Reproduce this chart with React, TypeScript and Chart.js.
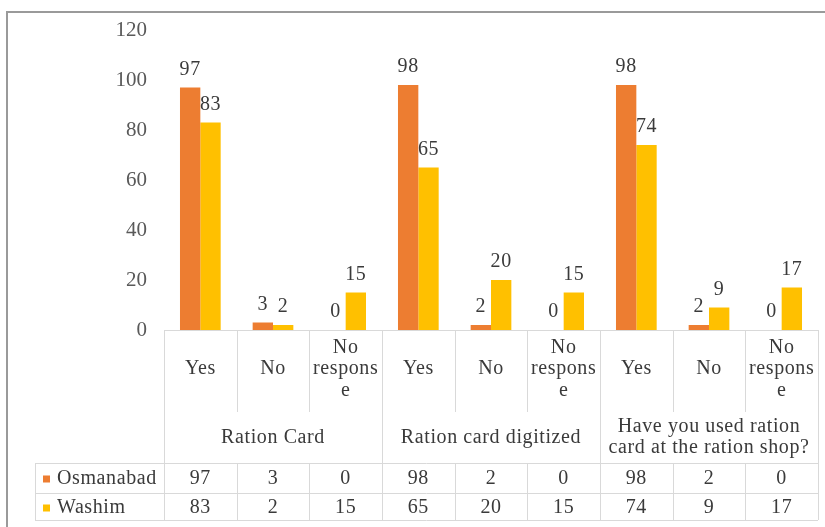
import React, { useEffect, useRef } from "react";
import { Chart, registerables } from "chart.js";

Chart.register(...registerables);

const categoryLines: string[][] = [
  ["Yes"], ["No"], ["No", "respons", "e"],
  ["Yes"], ["No"], ["No", "respons", "e"],
  ["Yes"], ["No"], ["No", "respons", "e"],
];
const groupLines: string[][] = [
  ["Ration Card"],
  ["Ration card digitized"],
  ["Have you used ration", "card at the ration shop?"],
];
const seriesNames = ["Osmanabad", "Washim"];
const osmanabad = [97, 3, 0, 98, 2, 0, 98, 2, 0];
const washim = [83, 2, 15, 65, 20, 15, 74, 9, 17];
const seriesColors = ["#ED7D31", "#FFC000"];
const yMax = 120;
const yStep = 20;

const FONT = "'Liberation Serif', 'Times New Roman', serif";
const TEXT = "#3A3A3A";
const LINE = "#D9D9D9";

const tablePlugin = {
  id: "dataTable",
  afterDatasetsDraw(chart: any) {
    const ctx = chart.ctx;
    ctx.save();
    ctx.font = `20px ${FONT}`;
    ctx.letterSpacing = "0.6px";
    ctx.fillStyle = TEXT;
    ctx.textAlign = "center";
    ctx.textBaseline = "middle";
    chart.data.datasets.forEach((ds: any, di: number) => {
      const meta = chart.getDatasetMeta(di);
      meta.data.forEach((el: any, i: number) => {
        ctx.fillText(String(ds.data[i]), el.x, el.y - 18);
      });
    });
    ctx.restore();
  },
  afterDraw(chart: any) {
    const ctx = chart.ctx;
    const ca = chart.chartArea;
    const xs = chart.scales.x;
    const n = categoryLines.length;
    const colW = (ca.right - ca.left) / n;
    const top = ca.bottom;
    const catBottom = 412;
    const dataTop = 463;
    const rowMid = 493;
    const bottom = 520;
    const legendLeft = 35;

    ctx.save();
    // outer border
    ctx.strokeStyle = "#9A9A9A";
    ctx.lineWidth = 2;
    ctx.beginPath();
    ctx.moveTo(7, 540);
    ctx.lineTo(7, 12);
    ctx.lineTo(830, 12);
    ctx.stroke();

    ctx.strokeStyle = LINE;
    ctx.lineWidth = 1;
    ctx.beginPath();
    ctx.moveTo(ca.left, top + 0.5);
    ctx.lineTo(ca.right, top + 0.5);
    for (let i = 0; i <= n; i++) {
      const bx = Math.round(ca.left + i * colW) + 0.5;
      if (i % 3 === 0) {
        ctx.moveTo(bx, top);
        ctx.lineTo(bx, bottom);
      } else {
        ctx.moveTo(bx, top);
        ctx.lineTo(bx, catBottom);
        ctx.moveTo(bx, dataTop);
        ctx.lineTo(bx, bottom);
      }
    }
    [dataTop, rowMid, bottom].forEach((y) => {
      ctx.moveTo(legendLeft, y + 0.5);
      ctx.lineTo(ca.right, y + 0.5);
    });
    ctx.moveTo(legendLeft + 0.5, dataTop);
    ctx.lineTo(legendLeft + 0.5, bottom);
    ctx.stroke();

    ctx.font = `20px ${FONT}`;
    ctx.letterSpacing = "0.6px";
    ctx.fillStyle = TEXT;
    ctx.textAlign = "center";
    ctx.textBaseline = "middle";

    const lh = 21.5;
    categoryLines.forEach((lines, i) => {
      const cx = xs.getPixelForValue(i);
      const cy = 369;
      const start = cy - ((lines.length - 1) * lh) / 2;
      lines.forEach((t, k) => ctx.fillText(t, cx, start + k * lh));
    });
    groupLines.forEach((lines, g) => {
      const cx = ca.left + (g * 3 + 1.5) * colW;
      const cy = 437.5;
      const start = cy - ((lines.length - 1) * 21) / 2;
      lines.forEach((t, k) => ctx.fillText(t, cx, start + k * 21));
    });
    const rows = [osmanabad, washim];
    const rowY = [479, 508];
    rows.forEach((vals, r) => {
      vals.forEach((v, i) => {
        ctx.fillText(String(v), xs.getPixelForValue(i), rowY[r]);
      });
      ctx.fillStyle = seriesColors[r];
      ctx.fillRect(43, rowY[r] - 3.5, 7, 7);
      ctx.fillStyle = TEXT;
      ctx.textAlign = "left";
      ctx.fillText(seriesNames[r], 57, rowY[r]);
      ctx.textAlign = "center";
    });
    ctx.restore();
  },
};

export default function App() {
  const ref = useRef<HTMLCanvasElement | null>(null);
  useEffect(() => {
    if (!ref.current) return;
    const chart = new Chart(ref.current, {
      type: "bar",
      data: {
        labels: categoryLines.map((l) => l.join(" ")),
        datasets: [
          {
            label: seriesNames[0],
            data: osmanabad,
            backgroundColor: seriesColors[0],
            categoryPercentage: 0.56,
            barPercentage: 1,
          },
          {
            label: seriesNames[1],
            data: washim,
            backgroundColor: seriesColors[1],
            categoryPercentage: 0.56,
            barPercentage: 1,
          },
        ],
      },
      options: {
        animation: false,
        responsive: false,
        layout: { padding: { left: 0, right: 7, top: 30, bottom: 197 } },
        plugins: { legend: { display: false }, tooltip: { enabled: false } },
        scales: {
          x: { display: false },
          y: {
            min: 0,
            max: yMax,
            ticks: {
              stepSize: yStep,
              padding: 17,
              color: "#595959",
              font: { family: FONT, size: 21 },
            },
            grid: { display: false, drawTicks: false },
            border: { display: false },
            afterFit: (s: any) => {
              s.width = 164;
            },
          },
        },
      },
      plugins: [tablePlugin],
    });
    return () => chart.destroy();
  }, []);
  return (
    <div
      style={{
        position: "fixed",
        left: 0,
        top: 0,
        width: 825,
        height: 527,
        background: "#fff",
      }}
    >
      <canvas ref={ref} width={825} height={527} />
    </div>
  );
}
